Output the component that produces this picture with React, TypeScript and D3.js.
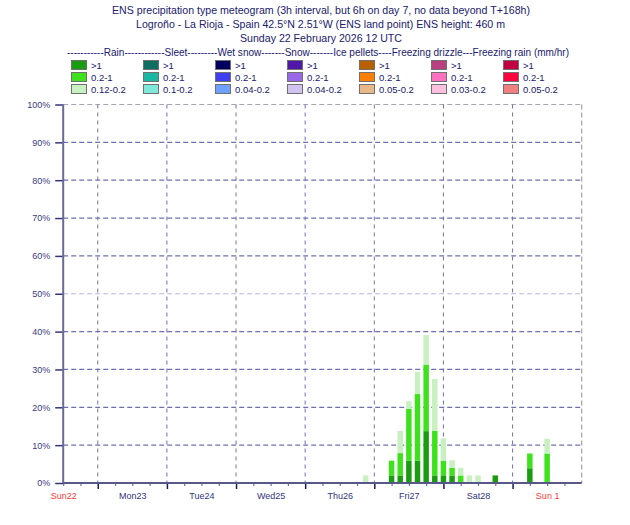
import { useEffect, useRef } from 'react';
import * as d3 from 'd3';

// lead time in hours from Sunday 22 February 2026 12 UTC
const leadHours = [105, 114, 117, 120, 123, 126, 129, 132, 135, 138, 141, 144, 150, 162, 168];
// rain probability (%) by intensity class, stacked bottom to top
const rainHeavy = [0, 2.0, 2.0, 5.9, 5.9, 13.7, 2.0, 2.0, 2.0, 0, 0, 0, 2.0, 3.9, 0];
const rainModerate = [0, 3.9, 5.9, 13.7, 17.6, 17.6, 11.8, 3.9, 2.0, 2.0, 0, 0, 0, 3.9, 7.8];
const rainLight = [2.0, 0, 5.9, 2.0, 5.9, 7.8, 13.7, 5.9, 2.0, 2.0, 2.0, 2.0, 0, 0, 3.9];

const dayLabels = ['Sun22', 'Mon23', 'Tue24', 'Wed25', 'Thu26', 'Fri27', 'Sat28', 'Sun 1'];
const yTicks = [0, 10, 20, 30, 40, 50, 60, 70, 80, 90, 100];

const legendTypes = ['Rain', 'Sleet', 'Wet snow', 'Snow', 'Ice pellets', 'Freezing drizzle', 'Freezing rain'];
const legendClasses = [
  ['>1', '0.2-1', '0.12-0.2'],
  ['>1', '0.2-1', '0.1-0.2'],
  ['>1', '0.2-1', '0.04-0.2'],
  ['>1', '0.2-1', '0.04-0.2'],
  ['>1', '0.2-1', '0.05-0.2'],
  ['>1', '0.2-1', '0.03-0.2'],
  ['>1', '0.2-1', '0.05-0.2']
];
const legendColors = [
  ['#1a9c10', '#3ee21c', '#c8f0c0'],
  ['#0e6e62', '#1ab8a2', '#7ee8da'],
  ['#000060', '#4040f0', '#70a0ff'],
  ['#5018a8', '#9868e8', '#d2c2f0'],
  ['#b86000', '#ff8000', '#e8b888'],
  ['#b84080', '#ff70c0', '#ffc0e0'],
  ['#c00040', '#ff0040', '#f08080']
];

const NAVY = '#20206e';
const FONT = '"Liberation Sans", Arial, sans-serif';

export default function App() {
  const ref = useRef<SVGSVGElement | null>(null);

  useEffect(() => {
    if (!ref.current) return;
    const svg = d3.select(ref.current);
    svg.selectAll('*').remove();

    const width = 630;
    const height = 525;
    const margin = { top: 104.5, right: 48.3, bottom: 42, left: 63.2 };
    const x = d3.scaleLinear().domain([0, 180]).range([margin.left, width - margin.right]);
    const y = d3.scaleLinear().domain([0, 100]).range([height - margin.bottom, margin.top]);

    svg.append('rect').attr('width', width).attr('height', height).attr('fill', '#fff');

    // titles
    const titles = [
      { t: 'ENS precipitation type meteogram (3h interval, but 6h on day 7, no data beyond T+168h)', y: 14, x0: 112, x1: 530 },
      { t: 'Logroño - La Rioja - Spain 42.5°N 2.51°W (ENS land point) ENS height: 460 m', y: 28, x0: 136, x1: 505 },
      { t: 'Sunday 22 February 2026 12 UTC', y: 42, x0: 240, x1: 402 },
      {
        t: '-----------Rain------------Sleet---------Wet snow-------Snow-------Ice pellets----Freezing drizzle---Freezing rain (mm/hr)',
        y: 56,
        x0: 67,
        x1: 569
      }
    ];
    titles.forEach((d) => {
      svg
        .append('text')
        .attr('x', d.x0)
        .attr('y', d.y)
        .attr('textLength', d.x1 - d.x0)
        .attr('lengthAdjust', 'spacingAndGlyphs')
        .style('font-family', FONT)
        .style('font-size', '11px')
        .attr('fill', NAVY)
        .text(d.t);
    });

    // legend
    legendTypes.forEach((_, i) => {
      legendClasses[i].forEach((label, j) => {
        const lx = 71 + i * 72;
        const ly = 60 + j * 12;
        svg
          .append('rect')
          .attr('x', lx + 0.5)
          .attr('y', ly + 0.5)
          .attr('width', 15)
          .attr('height', 9)
          .attr('fill', legendColors[i][j])
          .attr('stroke', '#707070');
        svg
          .append('text')
          .attr('x', lx + 20)
          .attr('y', ly + 9)
          .style('font-family', FONT)
          .style('font-size', '9.5px')
          .attr('fill', NAVY)
          .text(label);
      });
    });

    const midnights = d3.range(12, 180, 24);
    const innerBottom = y(0);
    const innerTop = y(100);

    // horizontal grid
    yTicks.slice(1).forEach((v) => {
      const col = v === 100 ? '#a8a8b4' : v === 50 ? '#b8b8e0' : '#7070b0';
      svg
        .append('line')
        .attr('x1', x(0))
        .attr('x2', x(180))
        .attr('y1', y(v))
        .attr('y2', y(v))
        .attr('stroke', col)
        .attr('stroke-width', 1.2)
        .attr('stroke-dasharray', '5,3');
    });

    // vertical grid at midnight
    midnights.forEach((h) => {
      svg
        .append('line')
        .attr('x1', x(h))
        .attr('x2', x(h))
        .attr('y1', innerTop)
        .attr('y2', innerBottom)
        .attr('stroke', '#7070b0')
        .attr('stroke-width', 1)
        .attr('stroke-dasharray', '4,4');
    });
    svg
      .append('line')
      .attr('x1', x(180))
      .attr('x2', x(180))
      .attr('y1', innerTop)
      .attr('y2', innerBottom)
      .attr('stroke', '#a8a0a0')
      .attr('stroke-width', 1.2)
      .attr('stroke-dasharray', '5,3');

    // bars
    const barW = x(1.9) - x(0);
    const layers = [
      { vals: rainHeavy, color: legendColors[0][0] },
      { vals: rainModerate, color: legendColors[0][1] },
      { vals: rainLight, color: legendColors[0][2] }
    ];
    leadHours.forEach((h, i) => {
      let base = 0;
      layers.forEach((layer) => {
        const v = layer.vals[i];
        if (v > 0) {
          svg
            .append('rect')
            .attr('x', x(h) - barW / 2)
            .attr('y', y(base + v))
            .attr('width', barW)
            .attr('height', y(base) - y(base + v))
            .attr('fill', layer.color);
        }
        base += v;
      });
    });

    // y axis
    const yAxis = d3
      .axisLeft(y)
      .tickValues(yTicks)
      .tickSize(8)
      .tickPadding(5)
      .tickFormat((d) => `${d}%`);
    const gy = svg.append('g').attr('transform', `translate(${x(0)},0)`).call(yAxis);
    gy.select('.domain').remove();
    gy.selectAll('line').attr('stroke', '#34347c').attr('stroke-width', 1.5);
    gy.selectAll('text')
      .style('font-family', FONT)
      .style('font-size', '9px')
      .attr('fill', '#3a3a82');

    // x axis ticks
    const minorAxis = d3
      .axisBottom(x)
      .tickValues(d3.range(0, 181, 6).filter((h) => (h - 12) % 24 !== 0))
      .tickSize(3)
      .tickFormat(() => '');
    const gMinor = svg.append('g').attr('transform', `translate(0,${innerBottom})`).call(minorAxis);
    gMinor.select('.domain').remove();
    gMinor.selectAll('line').attr('stroke', '#7070a8').attr('stroke-width', 1.2);

    const majorAxis = d3
      .axisBottom(x)
      .tickValues(midnights)
      .tickSize(6)
      .tickFormat(() => '');
    const gMajor = svg.append('g').attr('transform', `translate(0,${innerBottom})`).call(majorAxis);
    gMajor.select('.domain').remove();
    gMajor.selectAll('line').attr('stroke', '#1a1a60').attr('stroke-width', 1.5);

    const labelAxis = d3
      .axisBottom(x)
      .tickValues(dayLabels.map((_, i) => i * 24))
      .tickSize(0)
      .tickPadding(10)
      .tickFormat((_, i) => dayLabels[i]);
    const gLab = svg.append('g').attr('transform', `translate(0,${innerBottom})`).call(labelAxis);
    gLab.select('.domain').remove();
    gLab.selectAll('text')
      .style('font-family', FONT)
      .style('font-size', '9px')
      .attr('fill', (_, i) => (dayLabels[i].startsWith('Sun') ? '#ff3838' : '#34347c'));

    // axis lines
    svg
      .append('line')
      .attr('x1', x(0))
      .attr('x2', x(0))
      .attr('y1', innerTop)
      .attr('y2', innerBottom)
      .attr('stroke', '#6a6a98')
      .attr('stroke-width', 2);
    svg
      .append('line')
      .attr('x1', x(0))
      .attr('x2', x(180))
      .attr('y1', innerBottom)
      .attr('y2', innerBottom)
      .attr('stroke', '#585888')
      .attr('stroke-width', 2);
  }, []);

  return (
    <svg
      ref={ref}
      width={630}
      height={525}
      style={{ position: 'absolute', left: 0, top: 0, display: 'block' }}
    />
  );
}
